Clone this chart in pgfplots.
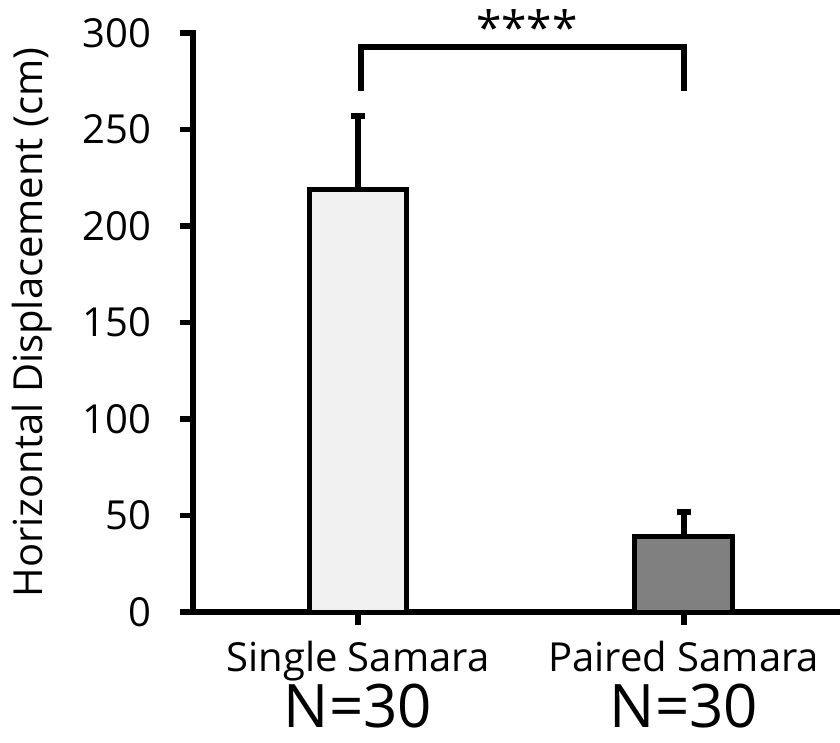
\documentclass[border=0pt]{standalone}
\usepackage{fontspec}
\setmainfont{Open Sans}
\usepackage{pgfplots}
\pgfplotsset{compat=1.18}
\begin{document}
\begin{tikzpicture}
\begin{axis}[
  scale only axis,
  width=647bp, height=579bp,
  xmin=-0.506, xmax=1.479,
  ymin=0, ymax=300,
  axis x line*=bottom, axis y line*=left,
  axis line style={line width=5.5bp, line cap=rect},
  axis line style={-},
  xtick={0,1},
  xticklabels={{Single Samara\vphantom{g}\\[2bp]\fontsize{60bp}{60bp}\selectfont N=30},{Paired Samara\vphantom{g}\\[2bp]\fontsize{60bp}{60bp}\selectfont N=30}},
  xticklabel style={align=center, font=\fontsize{40bp}{44bp}\selectfont, yshift=-14bp, inner sep=2bp},
  ytick={0,50,100,150,200,250,300},
  yticklabel style={font=\fontsize{40bp}{44bp}\selectfont, xshift=-25bp},
  /pgf/number format/assume math mode=true,
  tick style={line width=5.5bp, black},
  tick align=outside,
  major tick length=13bp,
  ylabel={Horizontal Displacement (cm)},
  ylabel style={font=\fontsize{40bp}{44bp}\selectfont, yshift=24bp},
  clip=false,
]
\addplot[ybar, bar shift=0pt, bar width=0.295, fill=black!6, draw=black, line width=5bp,
  error bars/.cd, y dir=plus, y explicit,
  error bar style={line width=5.5bp},
  error mark options={rotate=90, line width=6bp, mark size=7bp}]
  coordinates {(0,219) +- (0,38)};
\addplot[ybar, bar shift=0pt, bar width=0.3, fill=black!50, draw=black, line width=5bp,
  error bars/.cd, y dir=plus, y explicit,
  error bar style={line width=5.5bp},
  error mark options={rotate=90, line width=6bp, mark size=7bp}]
  coordinates {(1,39) +- (0,13)};
\addplot[black, line width=6bp, line join=miter, mark=none]
  coordinates {(0.01,270) (0.01,293) (1.0,293) (1.0,270)};
\node[anchor=base, font=\fontsize{46bp}{46bp}\selectfont, inner sep=0pt] at (axis cs:0.518,294) {****};
\end{axis}
\pgfresetboundingbox
\path[use as bounding box] ([shift={(-193bp,-131bp)}]current axis.south west) rectangle ([shift={(0bp,33bp)}]current axis.north east);
\end{tikzpicture}
\end{document}
